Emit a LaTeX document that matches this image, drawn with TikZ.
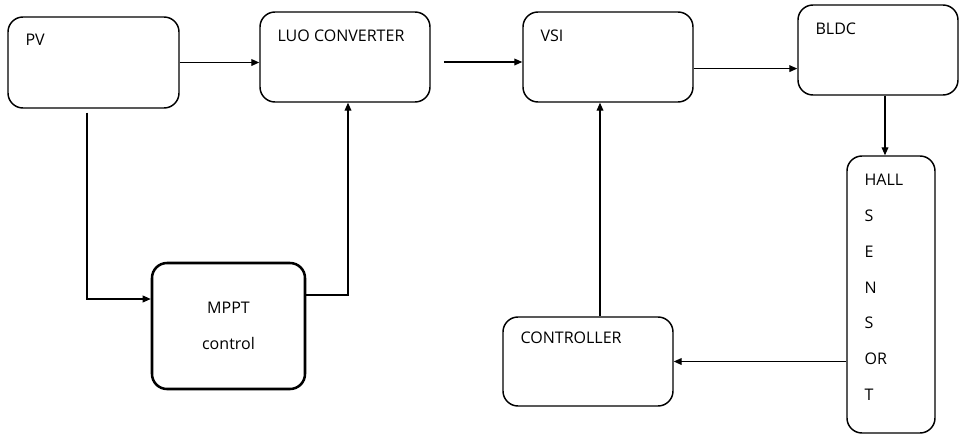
\documentclass[tikz,border=0pt]{standalone}
\usepackage{fontspec}
\setmainfont{Open Sans}
\usetikzlibrary{positioning, calc, arrows.meta}

\begin{document}
\begin{tikzpicture}[
    block/.style={draw, rounded corners=0.375cm, line width=1.05pt, inner sep=0pt},
    tag/.style={anchor=north west, inner sep=0pt, xshift=0.45cm, yshift=-0.45cm,
                font=\fontsize{11.4}{14}\selectfont},
    flow/.style={line width=0.9pt, -{Triangle[length=2mm, width=1.7mm]}}
]
    \useasboundingbox (0,0) rectangle (23.975,-10.85);

    % blocks
    \node[block, minimum width=4.275cm, minimum height=2.275cm] (pv)   at (2.3375,-1.5625) {};
    \node[block, minimum width=4.25cm,  minimum height=2.25cm]  (luo)  at (8.625,-1.425) {};
    \node[block, minimum width=4.25cm,  minimum height=2.25cm]  (vsi)  at (15.2,-1.425) {};
    \node[block, minimum width=4.0cm,   minimum height=2.25cm]  (bldc) at (21.95,-1.25) {};
    \node[block, minimum width=2.2cm,   minimum height=6.925cm] (hall) at (22.275,-7.3625) {};
    \node[block, minimum width=4.25cm,  minimum height=2.225cm] (ctrl) at (14.7,-9.0375) {};
    \node[block, line width=1.8pt, minimum width=3.825cm, minimum height=3.15cm,
          align=center, font=\fontsize{11.4}{25.6}\selectfont] (mppt) at (5.7125,-8.15) {MPPT\\control};

    % block titles, top left
    \node[tag] (pvtext)   at (pv.north west)   {PV};
    \node[tag] (luotext)  at (luo.north west)  {LUO CONVERTER};
    \node[tag] (vsitext)  at (vsi.north west)  {VSI};
    \node[tag] (bldctext) at (bldc.north west) {BLDC};
    \node[tag, yshift=0.06cm] (ctrltext) at (ctrl.north west) {CONTROLLER};
    \node[tag, align=left, font=\fontsize{11.4}{25.6}\selectfont] (halltext) at (hall.north west)
        {HALL\\S\\E\\N\\S\\OR\\T};

    % connector ends
    \coordinate (vsiout)  at ([yshift=-0.29cm]vsi.east);
    \coordinate (bldcout) at ([xshift=0.175cm]bldc.south);
    \coordinate (ctrlout) at ([xshift=0.3cm]ctrl.north);
    \coordinate (pvout)   at ([xshift=-0.1625cm, yshift=-0.1cm]pv.south);
    \coordinate (mpptout) at ([yshift=0.775cm]mppt.east);

    % power path
    \draw[flow] (pv.east) -- (pv.east -| luo.west);
    \draw[flow] ([xshift=0.33cm, yshift=-0.125cm]luo.east) -- ([yshift=-0.125cm]vsi.west);
    \draw[flow] (vsiout) -- (vsiout -| bldc.west);
    \draw[flow] (bldcout) -- (bldcout |- hall.north);

    % feedback paths
    \draw[flow] (hall.west |- ctrl.east) -- (ctrl.east);
    \draw[flow] (ctrlout) -- (ctrlout |- vsi.south);
    \draw[flow] (pvout) |- ([yshift=0.675cm]mppt.west);
    \draw[flow] (mpptout) -| ([xshift=0.075cm]luo.south);
\end{tikzpicture}
\end{document}
